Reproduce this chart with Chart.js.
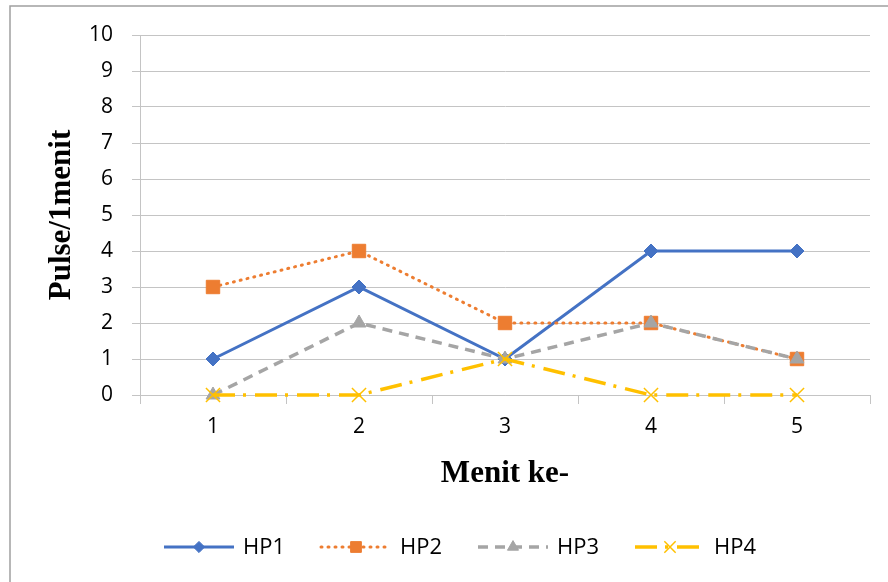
<!DOCTYPE html>
<html>
<head>
<meta charset="utf-8">
<script src="https://cdn.jsdelivr.net/npm/chart.js@4.4.0/dist/chart.umd.min.js"></script>
<style>
  html, body { margin: 0; padding: 0; background: #fff; }
</style>
</head>
<body>
<canvas id="pulse-chart" width="888" height="582"></canvas>
<script>
const minutes = ["1", "2", "3", "4", "5"];
const hp1 = [1, 3, 1, 4, 4];
const hp2 = [3, 4, 2, 2, 1];
const hp3 = [0, 2, 1, 2, 1];
const hp4 = [0, 0, 1, 0, 0];
const yMin = 0;
const yMax = 10;
const yStep = 1;

const gridColor = "#c4c4c4";

const tickFont = { family: "Open Sans", size: 21 };
const titleFont = { family: "Liberation Serif", size: 31, weight: "bold" };

// white background + the frame's top and left edges
const frame = {
  id: "frame",
  beforeDraw(chart) {
    const ctx = chart.ctx;
    ctx.save();
    ctx.fillStyle = "#fff";
    ctx.fillRect(0, 0, chart.width, chart.height);
    ctx.strokeStyle = "#a0a0a0";
    ctx.lineWidth = 1.5;
    ctx.beginPath();
    ctx.moveTo(10, chart.height);
    ctx.lineTo(10, 6);
    ctx.lineTo(chart.width, 6);
    ctx.stroke();
    ctx.restore();
  },
};

// legend with line sample and marker in the middle
const lineLegend = {
  id: "lineLegend",
  afterDraw(chart) {
    const ctx = chart.ctx;
    const y = 547;
    chart.data.datasets.forEach((ds, i) => {
      const x0 = 164 + i * 157;
      ctx.save();
      ctx.strokeStyle = ds.borderColor;
      ctx.lineWidth = ds.borderWidth;
      ctx.lineCap = ds.borderCapStyle || "butt";
      ctx.setLineDash(ds.borderDash || []);
      ctx.beginPath();
      ctx.moveTo(x0, y);
      ctx.lineTo(x0 + 70, y);
      ctx.stroke();
      ctx.setLineDash([]);
      ctx.lineCap = "butt";
      ctx.fillStyle = ds.pointBackgroundColor;
      ctx.strokeStyle = ds.pointBorderColor;
      ctx.lineWidth = ds.pointBorderWidth;
      Chart.helpers.drawPoint(
        ctx,
        {
          pointStyle: ds.pointStyle,
          radius: ds.pointRadius * 0.8,
          rotation: 0,
          borderWidth: ds.pointBorderWidth,
        },
        x0 + 35,
        y
      );
      ctx.fillStyle = "#000";
      ctx.font = "22px 'Open Sans'";
      ctx.textBaseline = "middle";
      ctx.fillText(ds.label, x0 + 79, y + 1);
      ctx.restore();
    });
  },
};

const ctx = document.getElementById("pulse-chart").getContext("2d");

new Chart(ctx, {
  type: "line",
  data: {
    labels: minutes,
    datasets: [
      {
        label: "HP1",
        data: hp1,
        borderColor: "#4472C4",
        borderWidth: 3,
        pointStyle: "rectRot",
        pointRadius: 7,
        pointBackgroundColor: "#4472C4",
        pointBorderColor: "#4472C4",
        pointBorderWidth: 1,
        order: 4,
      },
      {
        label: "HP2",
        data: hp2,
        borderColor: "#ED7D31",
        borderWidth: 3,
        borderDash: [1, 6],
        borderCapStyle: "round",
        pointStyle: "rect",
        pointRadius: 9.5,
        pointBackgroundColor: "#ED7D31",
        pointBorderColor: "#ED7D31",
        pointBorderWidth: 1,
        order: 3,
      },
      {
        label: "HP3",
        data: hp3,
        borderColor: "#A5A5A5",
        borderWidth: 3.5,
        borderDash: [10, 7],
        pointStyle: "triangle",
        pointRadius: 8,
        pointBackgroundColor: "#A5A5A5",
        pointBorderColor: "#A5A5A5",
        pointBorderWidth: 1,
        order: 2,
      },
      {
        label: "HP4",
        data: hp4,
        borderColor: "#FFC000",
        borderWidth: 3.5,
        borderDash: [22, 8, 3, 9],
        pointStyle: "crossRot",
        pointRadius: 10,
        pointBackgroundColor: "#FFC000",
        pointBorderColor: "#FFC000",
        pointBorderWidth: 1.5,
        order: 1,
      },
    ],
  },
  options: {
    responsive: false,
    animation: false,
    layout: {
      padding: { left: 0, right: 18, top: 35, bottom: 0 },
    },
    elements: {
      line: { tension: 0, fill: false },
    },
    datasets: {
      line: { clip: false },
    },
    plugins: {
      legend: { display: false },
      tooltip: { enabled: false },
    },
    scales: {
      x: {
        offset: true,
        grid: {
          offset: true,
          drawOnChartArea: false,
          tickLength: 9,
          color: gridColor,
        },
        border: { color: gridColor },
        ticks: { color: "#000", font: tickFont, padding: 10 },
        title: {
          display: true,
          text: "Menit ke-",
          color: "#000",
          font: titleFont,
          padding: { top: 0, bottom: 89 },
        },
        afterFit(scale) {
          scale.height = 187;
        },
      },
      y: {
        min: yMin,
        max: yMax,
        grid: { color: gridColor, tickLength: 8 },
        border: { color: gridColor },
        ticks: { stepSize: yStep, color: "#000", font: tickFont, padding: 19 },
        title: {
          display: true,
          text: "Pulse/1menit",
          color: "#000",
          font: titleFont,
          padding: { top: 43, bottom: 0 },
        },
        afterFit(scale) {
          scale.width = 140;
        },
      },
    },
  },
  plugins: [frame, lineLegend],
});
</script>
</body>
</html>
